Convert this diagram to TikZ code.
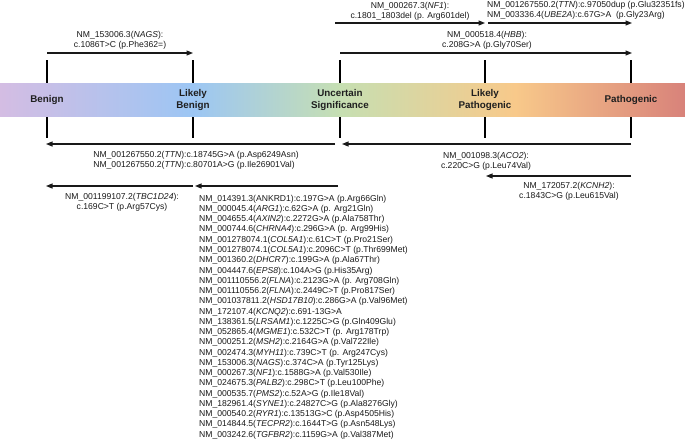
\documentclass[tikz,border=0pt]{standalone}
\usepackage{fontspec}
\setmainfont{Liberation Sans}
\usetikzlibrary{arrows.meta}
\definecolor{cA}{HTML}{D4BDE3}
\definecolor{cB}{HTML}{9CC6F4}
\definecolor{cC}{HTML}{C6DFB2}
\definecolor{cD}{HTML}{F8C98A}
\definecolor{cE}{HTML}{D8827A}
\begin{document}
\begin{tikzpicture}[x=1pt,y=-1pt,
  ann/.style={font=\fontsize{8.6}{10.4}\selectfont, align=center, inner sep=0pt, text=black!90},
  lst/.style={font=\fontsize{8.6}{10.4}\selectfont, anchor=base west, inner sep=0pt, text=black!90},
  cat/.style={font=\fontsize{9.8}{11.2}\selectfont\bfseries, align=center, inner sep=0pt, text=black!88},
  arr/.style={line width=1.1pt, draw=black!90, -{Triangle[length=6.5pt,width=5pt]}},
  tickline/.style={line width=1.3pt, draw=black}]
\useasboundingbox (0,0) rectangle (685,439);

% tick marks
\foreach \x/\n in {47/a,193/b,340/c,485/d,631/e}{
  \coordinate (top\n) at (\x,60);
  \coordinate (bot\n) at (\x,138);
  \draw[tickline] (top\n) -- (bot\n);
}

% gradient bar
\shade[left color=cA,right color=cB] (0,83) rectangle (193.6,116);
\shade[left color=cB,right color=cC] (193,83) rectangle (340.6,116);
\shade[left color=cC,right color=cD] (340,83) rectangle (515.6,116);
\shade[left color=cD,right color=cE] (515,83) rectangle (685,116);

\node[cat] (benign) at (47,100) {Benign};
\node[cat] (lbenign) at (193,100) {Likely\\Benign};
\node[cat] (vus) at (340,100) {Uncertain\\Significance};
\node[cat] (lpath) at (485,100) {Likely\\Pathogenic};
\node[cat] (path) at (631,100) {Pathogenic};

% top arrows
\coordinate (nagsS) at (47,53);  \coordinate (nagsE) at (193,53);
\draw[arr] (nagsS) -- (nagsE);
\node[ann] (nagsL) at (120,40.5) {NM\_153006.3(\textit{NAGS}):\\c.1086T>C (p.Phe362=)};

\coordinate (nf1S) at (335,23);  \coordinate (nf1E) at (485,23);
\draw[arr] (nf1S) -- (nf1E);
\node[ann] (nf1L) at (410,11) {NM\_000267.3(\textit{NF1}):\\c.1801\_1803del (p. Arg601del)};

\coordinate (ttnS) at (488,23);  \coordinate (ttnE) at (632,23);
\draw[arr] (ttnS) -- (ttnE);
\node[ann, align=left, anchor=west] (ttnL) at (487,10.5) {NM\_001267550.2(\textit{TTN}):c.97050dup (p.Glu32351fs)\\NM\_003336.4(\textit{UBE2A}):c.67G>A\ \ (p.Gly23Arg)};

\coordinate (hbbS) at (340,53);  \coordinate (hbbE) at (632,53);
\draw[arr] (hbbS) -- (hbbE);
\node[ann] (hbbL) at (487,40.5) {NM\_000518.4(\textit{HBB}):\\c.208G>A (p.Gly70Ser)};

% bottom arrows
\coordinate (ttn2S) at (335,144);  \coordinate (ttn2E) at (46,144);
\draw[arr] (ttn2S) -- (ttn2E);
\node[ann, align=left] (ttn2L) at (196,160) {NM\_001267550.2(\textit{TTN}):c.18745G>A (p.Asp6249Asn)\\NM\_001267550.2(\textit{TTN}):c.80701A>G (p.Ile26901Val)};

\coordinate (aco2S) at (631,144);  \coordinate (aco2E) at (342,144);
\draw[arr] (aco2S) -- (aco2E);
\node[ann] (aco2L) at (486,161.5) {NM\_001098.3(\textit{ACO2}):\\c.220C>G (p.Leu74Val)};

\coordinate (kcnS) at (631,176);  \coordinate (kcnE) at (486,176);
\draw[arr] (kcnS) -- (kcnE);
\node[ann] (kcnL) at (569,191.5) {NM\_172057.2(\textit{KCNH2}):\\c.1843C>G (p.Leu615Val)};

\coordinate (tbcS) at (193,186);  \coordinate (tbcE) at (46,186);
\draw[arr] (tbcS) -- (tbcE);
\node[ann] (tbcL) at (122,202.5) {NM\_001199107.2(\textit{TBC1D24}):\\c.169C>T (p.Arg57Cys)};

\coordinate (lstS) at (338,186);  \coordinate (lstE) at (195,186);
\draw[arr] (lstS) -- (lstE);

\foreach \t [count=\i] in {
 {NM\_014391.3(ANKRD1):c.197G>A (p.Arg66Gln)},
 {NM\_000045.4(\textit{ARG1}):c.62G>A (p. Arg21Gln)},
 {NM\_004655.4(\textit{AXIN2}):c.2272G>A (p.Ala758Thr)},
 {NM\_000744.6(\textit{CHRNA4}):c.296G>A (p. Arg99His)},
 {NM\_001278074.1(\textit{COL5A1}):c.61C>T (p.Pro21Ser)},
 {NM\_001278074.1(\textit{COL5A1}):c.2096C>T (p.Thr699Met)},
 {NM\_001360.2(\textit{DHCR7}):c.199G>A (p.Ala67Thr)},
 {NM\_004447.6(\textit{EPS8}):c.104A>G (p.His35Arg)},
 {NM\_001110556.2(\textit{FLNA}):c.2123G>A (p. Arg708Gln)},
 {NM\_001110556.2(\textit{FLNA}):c.2449C>T (p.Pro817Ser)},
 {NM\_001037811.2(\textit{HSD17B10}):c.286G>A (p.Val96Met)},
 {NM\_172107.4(\textit{KCNQ2}):c.691-13G>A},
 {NM\_138361.5(\textit{LRSAM1}):c.1225C>G (p.Gln409Glu)},
 {NM\_052865.4(\textit{MGME1}):c.532C>T (p. Arg178Trp)},
 {NM\_000251.2(\textit{MSH2}):c.2164G>A (p.Val722Ile)},
 {NM\_002474.3(\textit{MYH11}):c.739C>T (p. Arg247Cys)},
 {NM\_153006.3(\textit{NAGS}):c.374C>A (p.Tyr125Lys)},
 {NM\_000267.3(\textit{NF1}):c.1588G>A (p.Val530Ile)},
 {NM\_024675.3(\textit{PALB2}):c.298C>T (p.Leu100Phe)},
 {NM\_000535.7(\textit{PMS2}):c.52A>G (p.Ile18Val)},
 {NM\_182961.4(\textit{SYNE1}):c.24827C>G (p.Ala8276Gly)},
 {NM\_000540.2(\textit{RYR1}):c.13513G>C (p.Asp4505His)},
 {NM\_014844.5(\textit{TECPR2}):c.1644T>G (p.Asn548Lys)},
 {NM\_003242.6(\textit{TGFBR2}):c.1159G>A (p.Val387Met)}
}{\node[lst] (v\i) at (199,{201.2+10.26*(\i-1)}) {\t};}
\end{tikzpicture}
\end{document}
